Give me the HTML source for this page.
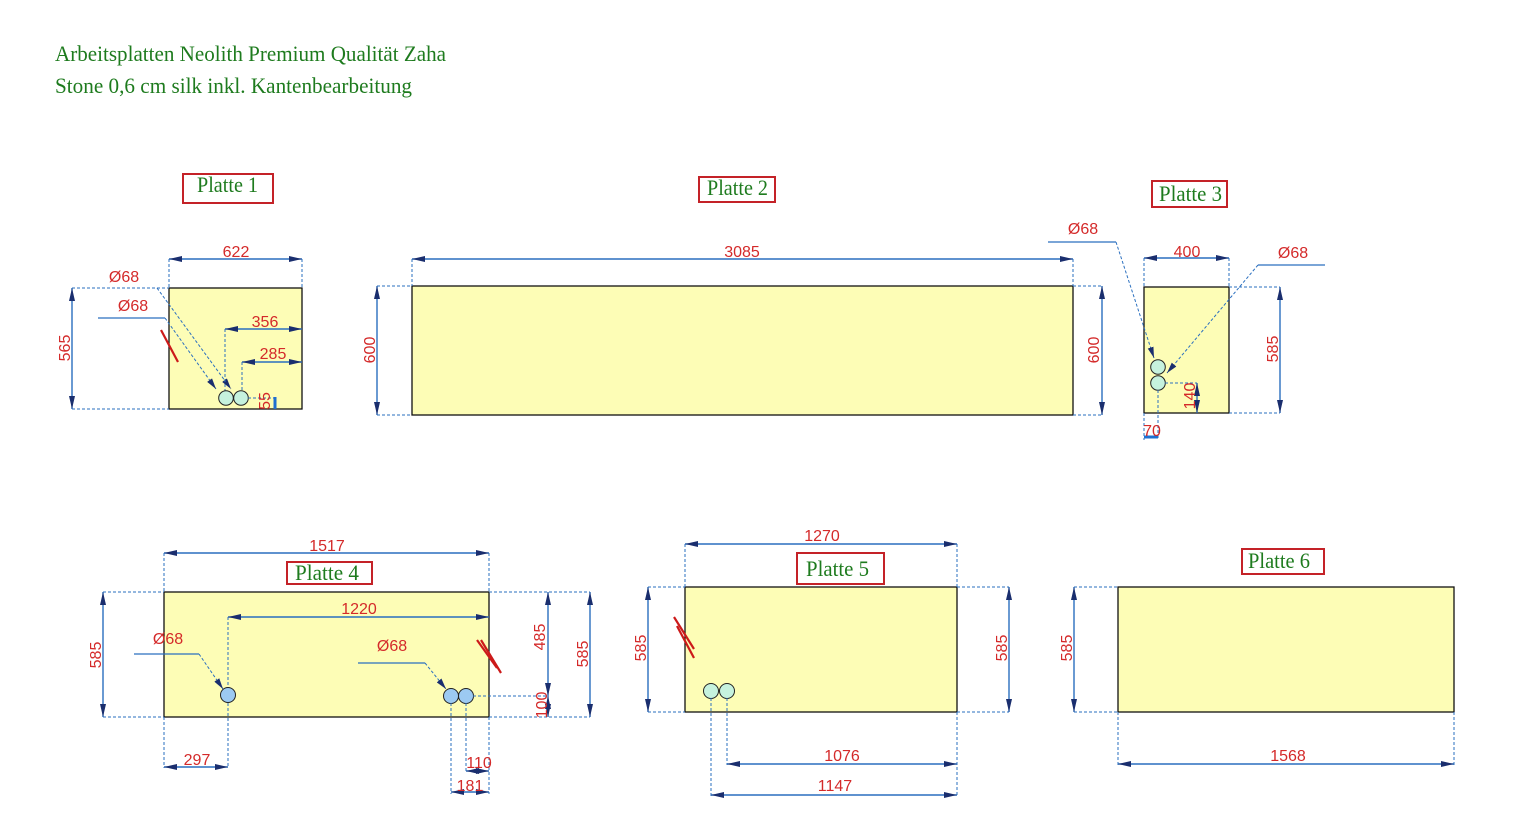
<!DOCTYPE html>
<html><head><meta charset="utf-8"><style>
html,body{margin:0;padding:0;background:#fff;}
svg{display:block;}
.d{stroke:#2a6fbf;stroke-width:1.4;fill:none;}
.e{stroke:#2a6fbf;stroke-width:1;stroke-dasharray:3 2;fill:none;}
.l{stroke:#2a6fbf;stroke-width:1.2;fill:none;}
.p{fill:#fdfdb6;stroke:#111;stroke-width:1.3;}
.t{font-family:"Liberation Sans",sans-serif;font-size:16px;fill:#d42a2a;}
.g{font-family:"Liberation Serif",serif;font-size:22px;fill:#1e7b1e;}
.b{fill:#fff;stroke:#c42228;stroke-width:2;}
.cm{fill:#c6f2de;stroke:#222;stroke-width:1;}
.cb{fill:#9ccaf2;stroke:#222;stroke-width:1;}
.r{stroke:#cc1a1a;stroke-width:2.2;}
</style></head><body>
<svg width="1513" height="825" viewBox="0 0 1513 825" xmlns="http://www.w3.org/2000/svg">
<defs>
<marker id="a" markerWidth="14" markerHeight="8" refX="13" refY="4" orient="auto-start-reverse" markerUnits="userSpaceOnUse"><path d="M0,1 L13,4 L0,7 Z" fill="#1a2e6e"/></marker>
<marker id="s" markerWidth="12" markerHeight="8" refX="11" refY="4" orient="auto" markerUnits="userSpaceOnUse"><path d="M0,1 L11,4 L0,7 Z" fill="#1a2e6e"/></marker>
</defs>

<!-- Title -->
<text x="55" y="61" textLength="391" lengthAdjust="spacingAndGlyphs" style="font-family:'Liberation Serif',serif;font-size:22px;fill:#1e7b1e;">Arbeitsplatten Neolith Premium Qualität Zaha</text>
<text x="55" y="93" textLength="357" lengthAdjust="spacingAndGlyphs" style="font-family:'Liberation Serif',serif;font-size:22px;fill:#1e7b1e;">Stone 0,6 cm silk inkl. Kantenbearbeitung</text>

<!-- ========== Platte 1 ========== -->
<rect class="b" x="183" y="174" width="90" height="29"/>
<text class="g" x="197" y="192" textLength="61" lengthAdjust="spacingAndGlyphs">Platte 1</text>
<rect class="p" x="169" y="288" width="133" height="121"/>
<line class="e" x1="169" y1="259" x2="169" y2="288"/>
<line class="e" x1="302" y1="259" x2="302" y2="288"/>
<line class="d" x1="169" y1="259" x2="302" y2="259" marker-start="url(#a)" marker-end="url(#a)"/>
<text class="t" x="236" y="257" text-anchor="middle">622</text>
<line class="e" x1="72" y1="288" x2="169" y2="288"/>
<line class="e" x1="72" y1="409" x2="169" y2="409"/>
<line class="d" x1="72" y1="288" x2="72" y2="409" marker-start="url(#a)" marker-end="url(#a)"/>
<text class="t" transform="translate(70,348) rotate(-90)" text-anchor="middle">565</text>
<text class="t" x="124" y="282" text-anchor="middle">Ø68</text>
<polyline class="e" points="157,288 231,389" marker-end="url(#s)"/>
<text class="t" x="133" y="311" text-anchor="middle">Ø68</text>
<line class="l" x1="98" y1="318" x2="165" y2="318"/>
<polyline class="e" points="165,318 216,389" marker-end="url(#s)"/>
<line class="r" x1="161" y1="330" x2="178" y2="362"/>
<line class="e" x1="225" y1="329" x2="225" y2="391"/>
<line class="d" x1="225" y1="329" x2="302" y2="329" marker-start="url(#a)" marker-end="url(#a)"/>
<text class="t" x="265" y="327" text-anchor="middle">356</text>
<line class="e" x1="242" y1="362" x2="242" y2="391"/>
<line class="d" x1="242" y1="362" x2="302" y2="362" marker-start="url(#a)" marker-end="url(#a)"/>
<text class="t" x="273" y="359" text-anchor="middle">285</text>
<circle class="cm" cx="226" cy="398" r="7.3"/>
<circle class="cm" cx="241" cy="398" r="7.3"/>
<line class="e" x1="248" y1="398" x2="275" y2="398"/>
<line x1="275" y1="397" x2="275" y2="409" stroke="#1f6fd0" stroke-width="3"/>
<text class="t" transform="translate(270,401) rotate(-90)" text-anchor="middle">55</text>

<!-- ========== Platte 2 ========== -->
<rect class="b" x="699" y="177" width="76" height="25"/>
<text class="g" x="707" y="195" textLength="61" lengthAdjust="spacingAndGlyphs">Platte 2</text>
<rect class="p" x="412" y="286" width="661" height="129"/>
<line class="e" x1="412" y1="259" x2="412" y2="286"/>
<line class="e" x1="1073" y1="259" x2="1073" y2="286"/>
<line class="d" x1="412" y1="259" x2="1073" y2="259" marker-start="url(#a)" marker-end="url(#a)"/>
<text class="t" x="742" y="257" text-anchor="middle">3085</text>
<line class="e" x1="377" y1="286" x2="412" y2="286"/>
<line class="e" x1="377" y1="415" x2="412" y2="415"/>
<line class="d" x1="377" y1="286" x2="377" y2="415" marker-start="url(#a)" marker-end="url(#a)"/>
<text class="t" transform="translate(375,350) rotate(-90)" text-anchor="middle">600</text>
<line class="e" x1="1073" y1="286" x2="1102" y2="286"/>
<line class="e" x1="1073" y1="415" x2="1102" y2="415"/>
<line class="d" x1="1102" y1="286" x2="1102" y2="415" marker-start="url(#a)" marker-end="url(#a)"/>
<text class="t" transform="translate(1099,350) rotate(-90)" text-anchor="middle">600</text>

<!-- ========== Platte 3 ========== -->
<rect class="b" x="1152" y="181" width="75" height="26"/>
<text class="g" x="1159" y="201" textLength="63" lengthAdjust="spacingAndGlyphs">Platte 3</text>
<rect class="p" x="1144" y="287" width="85" height="126"/>
<line class="e" x1="1144" y1="258" x2="1144" y2="287"/>
<line class="e" x1="1229" y1="258" x2="1229" y2="287"/>
<line class="d" x1="1144" y1="258" x2="1229" y2="258" marker-start="url(#a)" marker-end="url(#a)"/>
<text class="t" x="1187" y="257" text-anchor="middle">400</text>
<line class="e" x1="1229" y1="287" x2="1280" y2="287"/>
<line class="e" x1="1229" y1="413" x2="1280" y2="413"/>
<line class="d" x1="1280" y1="287" x2="1280" y2="413" marker-start="url(#a)" marker-end="url(#a)"/>
<text class="t" transform="translate(1278,349) rotate(-90)" text-anchor="middle">585</text>
<text class="t" x="1083" y="234" text-anchor="middle">Ø68</text>
<line class="l" x1="1048" y1="242" x2="1116" y2="242"/>
<polyline class="e" points="1116,242 1154,358" marker-end="url(#s)"/>
<text class="t" x="1293" y="258" text-anchor="middle">Ø68</text>
<line class="l" x1="1325" y1="265" x2="1258" y2="265"/>
<polyline class="e" points="1258,265 1167,373" marker-end="url(#s)"/>
<circle class="cm" cx="1158" cy="367" r="7.3"/>
<circle class="cm" cx="1158" cy="383" r="7.3"/>
<line class="e" x1="1165" y1="383" x2="1197" y2="383"/>
<line class="d" x1="1197" y1="383" x2="1197" y2="413" marker-start="url(#a)" marker-end="url(#a)"/>
<text class="t" transform="translate(1195,396) rotate(-90)" text-anchor="middle">140</text>
<line class="e" x1="1158" y1="390" x2="1158" y2="440"/>
<line class="e" x1="1144" y1="413" x2="1144" y2="440"/>
<line x1="1144" y1="437" x2="1158" y2="437" stroke="#1f6fd0" stroke-width="3"/>
<text class="t" x="1152" y="436" text-anchor="middle">70</text>

<!-- ========== Platte 4 ========== -->
<rect class="p" x="164" y="592" width="325" height="125"/>
<rect class="b" x="287" y="562" width="85" height="22"/>
<text class="g" x="295" y="580" textLength="64" lengthAdjust="spacingAndGlyphs">Platte 4</text>
<line class="e" x1="164" y1="553" x2="164" y2="592"/>
<line class="e" x1="489" y1="553" x2="489" y2="592"/>
<line class="d" x1="164" y1="553" x2="489" y2="553" marker-start="url(#a)" marker-end="url(#a)"/>
<text class="t" x="327" y="551" text-anchor="middle">1517</text>
<line class="e" x1="103" y1="592" x2="164" y2="592"/>
<line class="e" x1="103" y1="717" x2="164" y2="717"/>
<line class="d" x1="103" y1="592" x2="103" y2="717" marker-start="url(#a)" marker-end="url(#a)"/>
<text class="t" transform="translate(101,655) rotate(-90)" text-anchor="middle">585</text>
<line class="e" x1="228" y1="617" x2="228" y2="688"/>
<line class="d" x1="228" y1="617" x2="489" y2="617" marker-start="url(#a)" marker-end="url(#a)"/>
<text class="t" x="359" y="614" text-anchor="middle">1220</text>
<text class="t" x="168" y="644" text-anchor="middle">Ø68</text>
<line class="l" x1="134" y1="654" x2="199" y2="654"/>
<polyline class="e" points="199,654 223,689" marker-end="url(#s)"/>
<text class="t" x="392" y="651" text-anchor="middle">Ø68</text>
<line class="l" x1="358" y1="663" x2="425" y2="663"/>
<polyline class="e" points="425,663 446,689" marker-end="url(#s)"/>
<line class="r" x1="477" y1="640" x2="497" y2="668"/>
<line class="r" x1="481" y1="640" x2="501" y2="673"/>
<circle class="cb" cx="228" cy="695" r="7.5"/>
<circle class="cb" cx="451" cy="696" r="7.5"/>
<circle class="cb" cx="466" cy="696" r="7.5"/>
<line class="e" x1="473" y1="696" x2="548" y2="696"/>
<line class="e" x1="489" y1="592" x2="590" y2="592"/>
<line class="e" x1="489" y1="717" x2="590" y2="717"/>
<line class="d" x1="548" y1="592" x2="548" y2="696" marker-start="url(#a)" marker-end="url(#a)"/>
<line class="d" x1="548" y1="696" x2="548" y2="717" marker-start="url(#a)" marker-end="url(#a)"/>
<line class="d" x1="590" y1="592" x2="590" y2="717" marker-start="url(#a)" marker-end="url(#a)"/>
<text class="t" transform="translate(545,637) rotate(-90)" text-anchor="middle">485</text>
<text class="t" transform="translate(547,705) rotate(-90)" text-anchor="middle">100</text>
<text class="t" transform="translate(588,654) rotate(-90)" text-anchor="middle">585</text>
<line class="e" x1="164" y1="717" x2="164" y2="768"/>
<line class="e" x1="228" y1="703" x2="228" y2="768"/>
<line class="d" x1="164" y1="767" x2="228" y2="767" marker-start="url(#a)" marker-end="url(#a)"/>
<text class="t" x="197" y="765" text-anchor="middle">297</text>
<line class="e" x1="451" y1="703" x2="451" y2="794"/>
<line class="e" x1="466" y1="703" x2="466" y2="772"/>
<line class="e" x1="489" y1="717" x2="489" y2="794"/>
<line class="d" x1="466" y1="771" x2="489" y2="771" marker-start="url(#a)" marker-end="url(#a)"/>
<text class="t" x="479" y="768" text-anchor="middle">110</text>
<line class="d" x1="451" y1="792" x2="489" y2="792" marker-start="url(#a)" marker-end="url(#a)"/>
<text class="t" x="470" y="791" text-anchor="middle">181</text>

<!-- ========== Platte 5 ========== -->
<rect class="p" x="685" y="587" width="272" height="125"/>
<rect class="b" x="797" y="553" width="87" height="31"/>
<text class="g" x="806" y="576" textLength="63" lengthAdjust="spacingAndGlyphs">Platte 5</text>
<line class="e" x1="685" y1="544" x2="685" y2="587"/>
<line class="e" x1="957" y1="544" x2="957" y2="587"/>
<line class="d" x1="685" y1="544" x2="957" y2="544" marker-start="url(#a)" marker-end="url(#a)"/>
<text class="t" x="822" y="541" text-anchor="middle">1270</text>
<line class="e" x1="648" y1="587" x2="685" y2="587"/>
<line class="e" x1="648" y1="712" x2="685" y2="712"/>
<line class="d" x1="648" y1="587" x2="648" y2="712" marker-start="url(#a)" marker-end="url(#a)"/>
<text class="t" transform="translate(646,648) rotate(-90)" text-anchor="middle">585</text>
<line class="e" x1="957" y1="587" x2="1009" y2="587"/>
<line class="e" x1="957" y1="712" x2="1009" y2="712"/>
<line class="d" x1="1009" y1="587" x2="1009" y2="712" marker-start="url(#a)" marker-end="url(#a)"/>
<text class="t" transform="translate(1007,648) rotate(-90)" text-anchor="middle">585</text>
<line class="r" x1="674" y1="617" x2="694" y2="649"/>
<line class="r" x1="677" y1="626" x2="694" y2="658"/>
<circle class="cm" cx="711" cy="691" r="7.5"/>
<circle class="cm" cx="727" cy="691" r="7.5"/>
<line class="e" x1="711" y1="698" x2="711" y2="796"/>
<line class="e" x1="727" y1="698" x2="727" y2="765"/>
<line class="e" x1="957" y1="712" x2="957" y2="796"/>
<line class="d" x1="727" y1="764" x2="957" y2="764" marker-start="url(#a)" marker-end="url(#a)"/>
<text class="t" x="842" y="761" text-anchor="middle">1076</text>
<line class="d" x1="711" y1="795" x2="957" y2="795" marker-start="url(#a)" marker-end="url(#a)"/>
<text class="t" x="835" y="791" text-anchor="middle">1147</text>

<!-- ========== Platte 6 ========== -->
<rect class="b" x="1242" y="549" width="82" height="25"/>
<text class="g" x="1248" y="568" textLength="62" lengthAdjust="spacingAndGlyphs">Platte 6</text>
<rect class="p" x="1118" y="587" width="336" height="125"/>
<line class="e" x1="1074" y1="587" x2="1118" y2="587"/>
<line class="e" x1="1074" y1="712" x2="1118" y2="712"/>
<line class="d" x1="1074" y1="587" x2="1074" y2="712" marker-start="url(#a)" marker-end="url(#a)"/>
<text class="t" transform="translate(1072,648) rotate(-90)" text-anchor="middle">585</text>
<line class="e" x1="1118" y1="712" x2="1118" y2="765"/>
<line class="e" x1="1454" y1="712" x2="1454" y2="765"/>
<line class="d" x1="1118" y1="764" x2="1454" y2="764" marker-start="url(#a)" marker-end="url(#a)"/>
<text class="t" x="1288" y="761" text-anchor="middle">1568</text>
</svg>
</body></html>
